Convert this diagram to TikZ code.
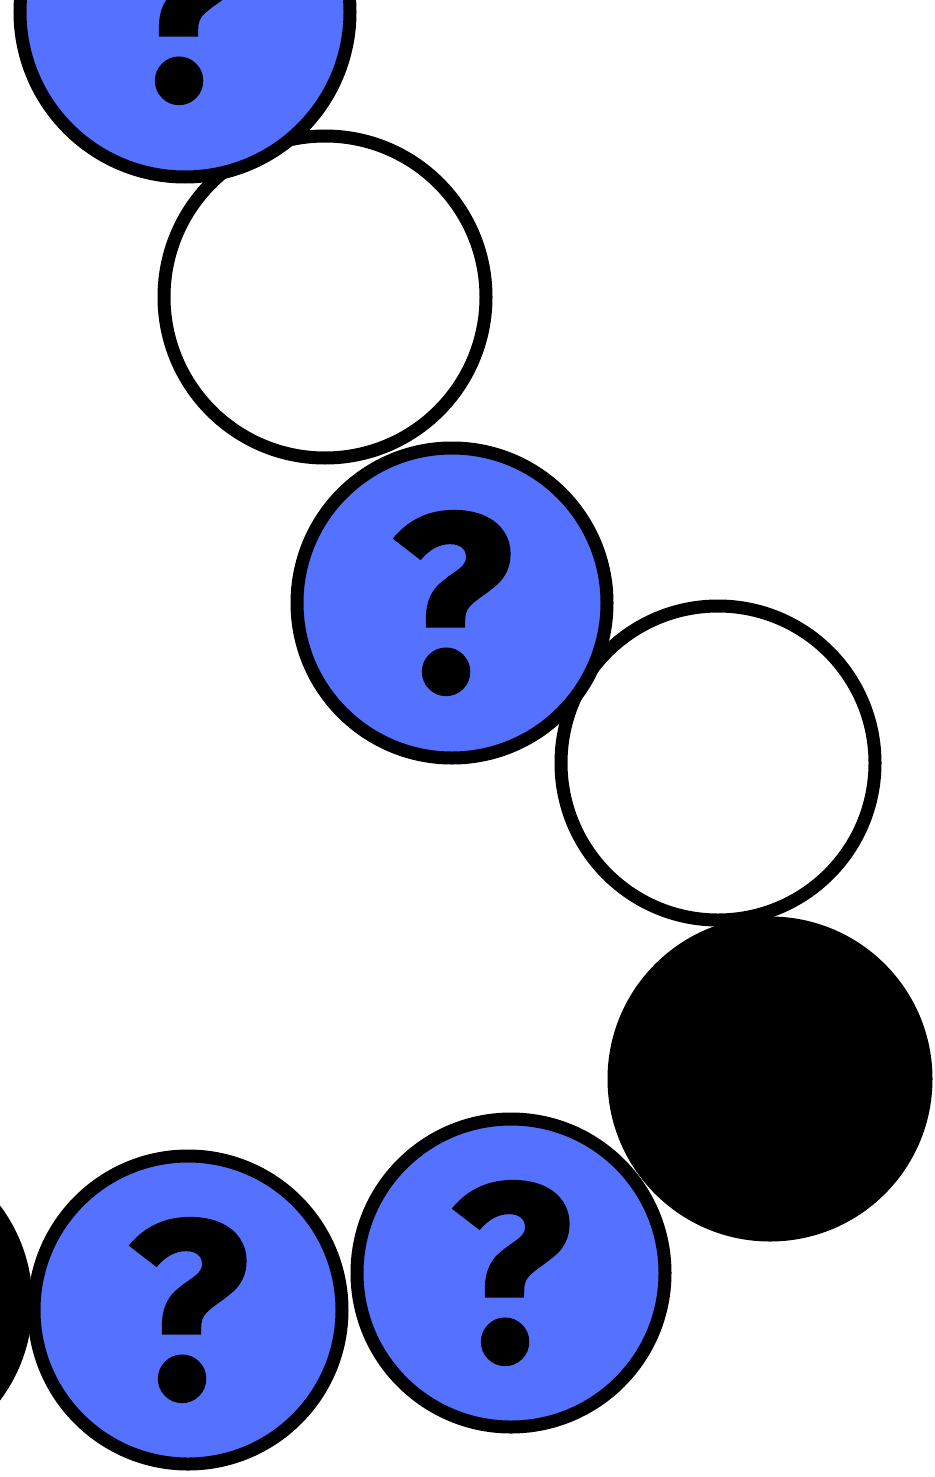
\documentclass[tikz,border=0pt]{standalone}
\usepackage{fontspec}
\newfontfamily\qfont[BoldFeatures={FakeBold=1.2}]{Fira Sans}
\definecolor{qblue}{RGB}{84,114,255}
\tikzset{
  ball/.style={circle, draw=black, line width=6.5pt, inner sep=0pt, minimum size=#1},
  qball/.style={ball=#1, fill=qblue, font=\qfont\bfseries\fontsize{126}{126}\selectfont},
  wball/.style={ball=#1, fill=white},
  bball/.style={ball=#1, fill=black},
}
\begin{document}
\begin{tikzpicture}[x=0.5pt,y=-0.5pt]
\useasboundingbox (0,0) rectangle (934,1477);
\clip (0,0) rectangle (934,1477);
\node[bball=156pt] (c8) at (-130,1303) {};
\node[qball=154pt] (c7) at (188,1310) {?};
\node[qball=154pt] (c6) at (511,1273) {?};
\node[bball=156pt] (c5) at (770,1079) {};
\node[wball=157pt] (c4) at (718,763) {};
\node[qball=155pt] (c3) at (452,603) {?};
\node[wball=161pt] (c2) at (325,297) {};
\node[qball=165pt] (c1) at (185,12) {?};
\end{tikzpicture}
\end{document}
